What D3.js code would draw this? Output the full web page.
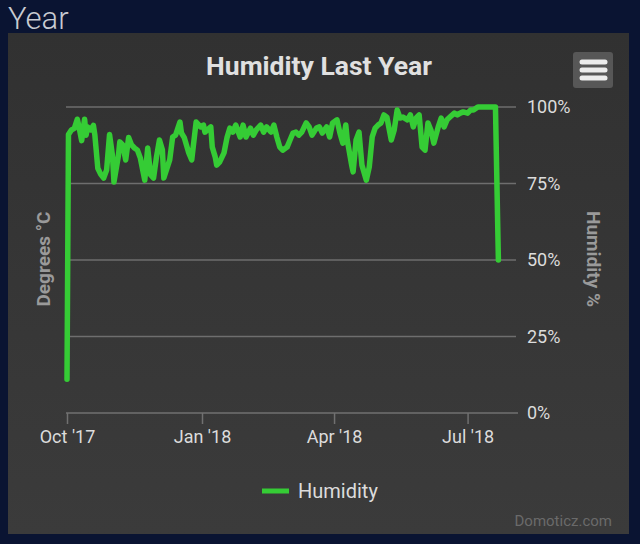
<!DOCTYPE html>
<html>
<head>
<meta charset="utf-8">
<script src="https://cdn.jsdelivr.net/npm/d3@7/dist/d3.min.js"></script>
<style>
  html, body { margin: 0; padding: 0; background: #0a1432; }
  svg { display: block; font-family: Roboto, "Noto Sans", sans-serif; }
</style>
</head>
<body>
<svg id="chart" width="640" height="544"></svg>
<script>
// ---- data ----
const startDate = "2017-10-01";
const dayOffsets = [0,1,3,5,7,8,10,12,13,14,16,18,19,21,23,25,27,29,31,32,35,36,38,40,42,44,46,48,50,53,55,57,59,61,63,65,66,70,72,74,77,78,80,83,85,86,88,91,93,94,98,99,101,102,104,107,109,111,113,115,118,120,122,125,127,129,132,134,136,139,141,143,145,147,150,152,154,156,158,160,163,165,167,170,172,174,177,179,181,184,186,188,190,191,194,195,197,199,201,204,206,208,210,212,214,216,218,221,223,225,227,229,232,234,236,238,240,242,244,246,248,250,253,255,257,259,261,264,266,268,270,273,275,277,280,286,292,294];
const humidity = [11,91,92.5,93,96,94,89,96,90.8,93.5,92.5,94,90.8,80,78,76.8,79.4,91,84,75.5,84,88.6,87.6,82.7,90,87.6,86.6,85.9,83.3,76.1,86.6,77.8,76.8,83.7,89.2,86,76.8,82.7,90.2,90.8,95.1,91.5,89.9,85,82.7,86.9,95.1,93.5,94.1,91.8,93.5,86.9,83.7,81,82,85,89.9,93.1,91.8,94.1,90.2,94.1,90.2,93.1,90.8,92.5,94.1,91.8,93.5,91.8,94.1,90.2,86.9,85.9,86.9,89.2,91.5,91.8,90.8,91.8,94.8,93.5,90.8,93.1,93.5,91.5,93.5,90.2,94.8,95.8,91.5,88.2,94.1,89.2,81,78.8,89.2,91.8,81,76.1,80.4,90.2,93.1,94.1,94.8,97.4,96.7,89.2,92.5,99,96.4,96.7,95.8,97.4,93.5,96.4,97.4,86.9,85.9,94.8,92.5,88.2,93.5,96.4,93.5,95.8,96.7,98,97.4,98,98.4,98,99,99,100,100,100,50];
const xTickDates = ["2017-10-01","2018-01-01","2018-04-01","2018-07-01"];
const xTickLabels = ["Oct '17","Jan '18","Apr '18","Jul '18"];
const yTicks = [0,25,50,75,100];
const seriesName = "Humidity";
const xDomainEnd = "2018-08-03";

// ---- drawing ----
const svg = d3.select("#chart");
const parse = d3.utcParse("%Y-%m-%d");
const start = parse(startDate);
const points = dayOffsets.map((d, i) => ({ date: d3.utcDay.offset(start, d), value: humidity[i] }));

const defs = svg.append("defs");
const grad = defs.append("linearGradient").attr("id", "bg").attr("x1", 0).attr("y1", 0).attr("x2", 0).attr("y2", 1);
grad.append("stop").attr("offset", "0%").attr("stop-color", "#313131");
grad.append("stop").attr("offset", "100%").attr("stop-color", "#3b3b3b");

svg.append("rect").attr("width", 640).attr("height", 544).attr("fill", "#0a1432");
svg.append("rect").attr("x", 8).attr("y", 33).attr("width", 621).attr("height", 501).attr("fill", "url(#bg)");
svg.append("text").attr("x", 8).attr("y", 29)
  .attr("font-size", 31).attr("font-weight", 300).attr("fill", "#c8cbd2").text("Year");

const x = d3.scaleUtc().domain([start, parse(xDomainEnd)]).range([67, 516]);
const y = d3.scaleLinear().domain([0, 100]).range([413, 107]);

// grid
svg.append("g").selectAll("line").data(yTicks.filter(t => t > 0)).join("line")
  .attr("x1", 66).attr("x2", 516).attr("y1", d => y(d)).attr("y2", d => y(d))
  .attr("stroke", "#6e6e6e").attr("stroke-width", 1.5);

// x axis
const xAxis = d3.axisBottom(x)
  .tickValues(xTickDates.map(parse))
  .tickFormat((d, i) => xTickLabels[i])
  .tickSize(11).tickSizeOuter(0).tickPadding(6);
const gx = svg.append("g").attr("transform", "translate(0,413)").call(xAxis);
gx.select(".domain").attr("stroke", "#707070").attr("stroke-width", 1.5).attr("d", "M66,0H518");
gx.selectAll(".tick line").attr("stroke", "#707070").attr("stroke-width", 1.5);
gx.selectAll(".tick text").attr("fill", "#dcdcdc").attr("font-size", 18).attr("font-family", "Roboto");

// y axis (right)
const yAxis = d3.axisRight(y).tickValues(yTicks).tickFormat(d => d + "%").tickSize(0).tickPadding(11);
const gy = svg.append("g").attr("transform", "translate(516,0)").call(yAxis);
gy.select(".domain").remove();
gy.selectAll(".tick text").attr("fill", "#dcdcdc").attr("font-size", 18).attr("font-family", "Roboto");

// line
const line = d3.line().x(d => x(d.date)).y(d => y(d.value));
svg.append("path").datum(points).attr("d", line)
  .attr("fill", "none").attr("stroke", "#35cc35").attr("stroke-width", 5.5)
  .attr("stroke-linejoin", "round").attr("stroke-linecap", "round");

// title
svg.append("text").attr("x", 319).attr("y", 75).attr("text-anchor", "middle")
  .attr("font-size", 26.5).attr("font-weight", "bold").attr("fill", "#e0e0e0").text("Humidity Last Year");

// axis titles
svg.append("text").attr("transform", "translate(50,259) rotate(-90)").attr("text-anchor", "middle")
  .attr("font-size", 19).attr("font-weight", "bold").attr("fill", "#9a9a9a").text("Degrees °C");
svg.append("text").attr("transform", "translate(587,259) rotate(90)").attr("text-anchor", "middle")
  .attr("font-size", 19).attr("font-weight", "bold").attr("fill", "#9a9a9a").text("Humidity %");

// menu button
svg.append("rect").attr("x", 573).attr("y", 52).attr("width", 40).attr("height", 36).attr("rx", 3).attr("fill", "#575757");
svg.append("g").selectAll("line").data([62, 70, 78]).join("line")
  .attr("x1", 582).attr("x2", 605).attr("y1", d => d).attr("y2", d => d)
  .attr("stroke", "#ececec").attr("stroke-width", 5).attr("stroke-linecap", "round");

// legend
svg.append("line").attr("x1", 262).attr("x2", 289).attr("y1", 491).attr("y2", 491)
  .attr("stroke", "#35cc35").attr("stroke-width", 5);
svg.append("text").attr("x", 298).attr("y", 498).attr("font-size", 20).attr("fill", "#dcdcdc").text(seriesName);

// credit
svg.append("text").attr("x", 612).attr("y", 526).attr("text-anchor", "end")
  .attr("font-size", 15).attr("fill", "#6a6a6a").text("Domoticz.com");
</script>
</body>
</html>
